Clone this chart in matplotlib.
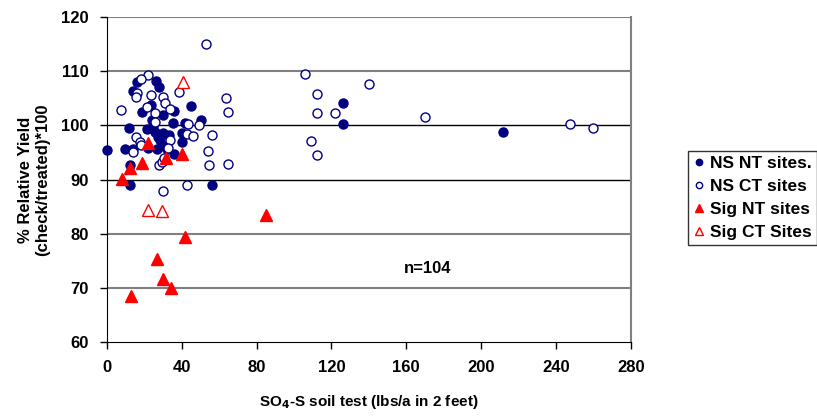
import matplotlib
matplotlib.use("Agg")
import matplotlib.pyplot as plt

plt.rcParams["font.family"] = ["Liberation Sans", "DejaVu Sans"]
plt.rcParams["font.weight"] = "bold"

# NS NT sites (filled navy circles)
ns_nt_x = [0, 15.9, 14.1, 26.2, 28.0, 23.4, 18.5, 29.8, 35.8, 44.7, 23.9, 35.1, 41.7,
           50.2, 11.9, 21.2, 25.7, 29.8, 39.9, 28.3, 39.9, 30.1, 9.6, 14.1, 22.1, 26.6,
           31.9, 35.8, 12.3, 12.3, 56.0, 24.5, 27.5, 33.0, 126.0, 126.0, 211.8]
ns_nt_y = [95.4, 108.1, 106.4, 108.2, 107.1, 103.8, 102.4, 101.9, 102.7, 103.6, 101.0,
           100.4, 100.4, 101.0, 99.6, 99.4, 98.8, 98.5, 98.5, 97.3, 97.0, 96.1, 95.6,
           95.6, 95.8, 95.6, 95.6, 94.7, 92.7, 89.0, 89.0, 99.8, 97.8, 98.2, 104.1, 100.2,
           98.8]

# NS CT sites (open navy circles)
ns_ct_x = [21.7, 18.1, 15.9, 15.5, 23.4, 29.8, 31.0, 38.6, 7.3, 21.2, 25.7, 33.7, 63.6,
           64.8, 25.7, 43.5, 49.2, 15.5, 17.6, 33.7, 42.9, 46.1, 56.0, 13.7, 18.0, 32.8,
           54.0, 54.6, 64.8, 28.0, 29.4, 30.2, 29.8, 42.9, 52.9,
           105.8, 112.0, 140.0, 112.0, 121.9, 169.8, 108.9, 112.0, 247.8, 259.9]
ns_ct_y = [109.3, 108.6, 105.9, 105.2, 105.6, 105.3, 104.2, 106.2, 102.8, 103.4, 102.2,
           103.0, 105.1, 102.5, 100.6, 100.2, 100.1, 97.9, 97.0, 97.3, 98.4, 98.0, 98.3,
           95.0, 96.4, 95.9, 95.3, 92.7, 92.9, 92.7, 93.3, 93.9, 87.9, 88.9, 115.1,
           109.4, 105.8, 107.7, 102.2, 102.2, 101.5, 97.1, 94.6, 100.2, 99.6]

# Sig NT sites (filled red triangles)
sig_nt_x = [22.1, 12.3, 18.5, 31.4, 40.2, 7.9, 41.7, 26.6, 30.1, 34.0, 12.8, 85.0]
sig_nt_y = [96.7, 92.1, 93.1, 94.0, 94.8, 90.1, 79.3, 75.3, 71.6, 69.9, 68.5, 83.4]

# Sig CT sites (open red triangles)
sig_ct_x = [40.8, 21.7, 29.2]
sig_ct_y = [108.1, 84.4, 84.2]

x_ticks = [0, 40, 80, 120, 160, 200, 240, 280]
y_ticks = [60, 70, 80, 90, 100, 110, 120]

navy = "#000080"
red = "#FF0000"

fig = plt.figure(figsize=(8.17, 4.17), dpi=100)
ax = fig.add_axes([0.131, 0.180, 0.641, 0.779])

# horizontal grid lines, some gray and some black like the original
for yv, col, lw in [(70, "#808080", 1.5), (80, "#808080", 1.5), (90, "black", 1.0),
                    (100, "black", 1.0), (110, "#808080", 1.5), (120, "#808080", 1.5)]:
    ax.axhline(yv, color=col, lw=lw, zorder=1)

ax.plot(ns_nt_x, ns_nt_y, "o", ms=6.5, color=navy, mec=navy, ls="none",
        label="NS NT sites.", zorder=3, clip_on=False)
ax.plot(ns_ct_x, ns_ct_y, "o", ms=6.5, mfc="white", mec=navy, mew=1.0, ls="none",
        label="NS CT sites", zorder=3)
ax.plot(sig_nt_x, sig_nt_y, "^", ms=8.5, color=red, mec=red, ls="none",
        label="Sig NT sites", zorder=4)
ax.plot(sig_ct_x, sig_ct_y, "^", ms=8.5, mfc="white", mec=red, mew=1.0, ls="none",
        label="Sig CT Sites", zorder=4)

ax.set_xlim(0, 280)
ax.set_ylim(60, 120)
ax.set_xticks(x_ticks)
ax.set_yticks(y_ticks)
ax.tick_params(axis="both", direction="out", length=5, width=1, labelsize=12, pad=8)
for lab in ax.get_xticklabels() + ax.get_yticklabels():
    lab.set_fontweight("bold")

ax.spines["top"].set_visible(False)
ax.spines["right"].set_color("#808080")
ax.spines["right"].set_linewidth(1.5)
ax.spines["left"].set_color("black")
ax.spines["bottom"].set_color("black")

ax.set_xlabel("SO$_\\mathbf{4}$-S soil test (lbs/a in 2 feet)", fontsize=11,
              fontweight="bold", labelpad=13)
ax.set_ylabel("% Relative Yield\n(check/treated)*100", fontsize=12,
              fontweight="bold", labelpad=8)

ax.text(171.5, 73.5, "n=104", fontsize=12, fontweight="bold", ha="center", va="center")

leg = fig.legend(loc="upper left", bbox_to_anchor=(0.842, 0.638), fontsize=12.5,
                 frameon=True, fancybox=False, edgecolor="black", handlelength=0.7,
                 handletextpad=0.3, labelspacing=0.45, borderpad=0.3, markerscale=0.7,
                 borderaxespad=0)
leg.get_frame().set_linewidth(1.0)
for t in leg.get_texts():
    t.set_fontweight("bold")

fig.savefig("out.png", dpi=100)
